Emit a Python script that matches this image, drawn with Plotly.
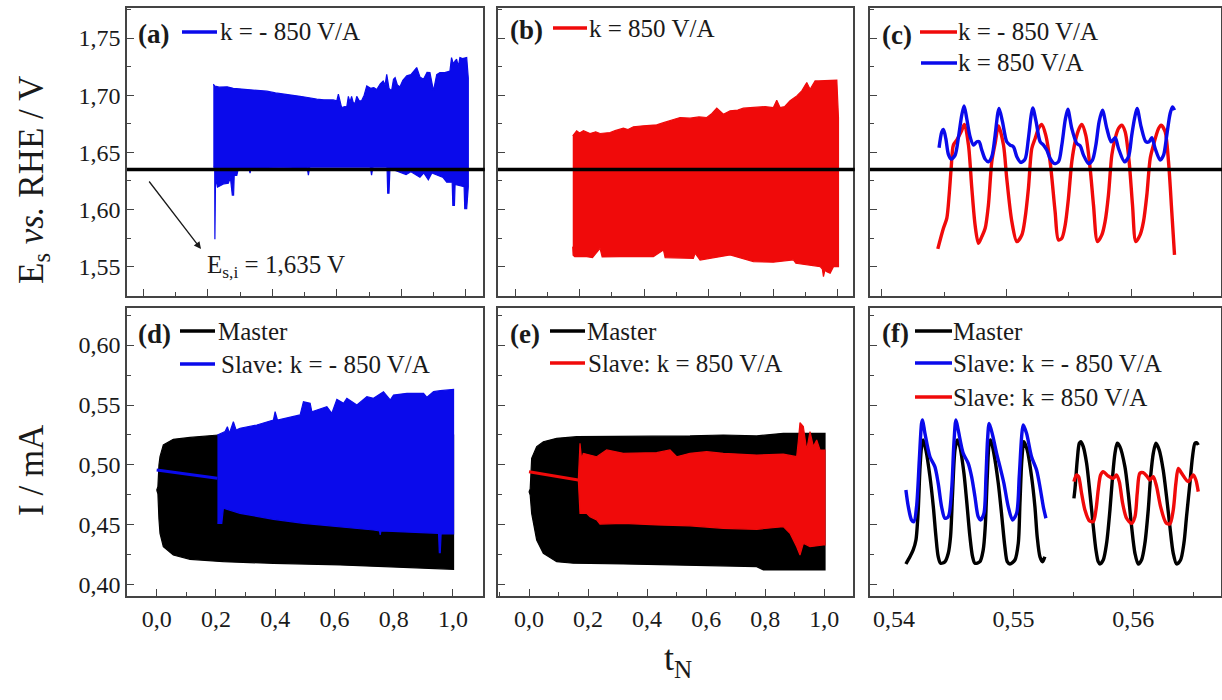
import plotly.graph_objects as go

W, H = 1222, 700
FONT = "Liberation Serif"
BLUE = "#0a0aeb"
RED = "#f00a0a"
BLACK = "#000000"
AXC = "#444444"

# ---------------- data ----------------
E_SI = 1.635  # initial slave potential, V

# (a) slave potential, k = -850 V/A : envelope of the dense oscillation
A_T_UP = [0.217, 0.222, 0.235, 0.260, 0.279, 0.300, 0.330, 0.360, 0.383, 0.410,
          0.440, 0.470, 0.486, 0.510, 0.538, 0.560, 0.589, 0.600, 0.605, 0.610,
          0.615, 0.625, 0.631, 0.636, 0.641, 0.646, 0.651, 0.657, 0.662, 0.670,
          0.677, 0.685, 0.693, 0.705, 0.715, 0.724, 0.735, 0.744, 0.750, 0.755,
          0.762, 0.770, 0.776, 0.781, 0.788, 0.796, 0.805, 0.817, 0.830, 0.848,
          0.858, 0.869, 0.880, 0.889, 0.895, 0.900, 0.910, 0.920, 0.935, 0.951,
          0.956, 0.962, 0.967, 0.972, 0.977, 0.982, 0.990, 1.003, 1.008]
A_V_UP = [1.7096, 1.7080, 1.7070, 1.7073, 1.7060, 1.7055, 1.7052, 1.7040, 1.7035, 1.7020,
          1.7010, 1.7000, 1.6990, 1.6980, 1.6965, 1.6960, 1.6959, 1.6950, 1.7009, 1.6950,
          1.6892, 1.6900, 1.6898, 1.6990, 1.6940, 1.6990, 1.6936, 1.6930, 1.6990, 1.6950,
          1.6951, 1.7000, 1.7081, 1.7060, 1.7067, 1.7050, 1.7100, 1.7125, 1.7090, 1.7183,
          1.7060, 1.7038, 1.7140, 1.7154, 1.7090, 1.7073, 1.7130, 1.7169, 1.7180, 1.7242,
          1.7160, 1.7140, 1.7200, 1.7198, 1.7120, 1.7038, 1.7180, 1.7198, 1.7198, 1.7210,
          1.7329, 1.7271, 1.7300, 1.7314, 1.7250, 1.7329, 1.7320, 1.7329, 1.7150]
A_T_LO = [0.217, 0.2215, 0.2220, 0.2235, 0.2240, 0.2300, 0.2400, 0.2500, 0.2637, 0.2700,
          0.2760, 0.2800, 0.2820, 0.2900, 0.2950, 0.3280, 0.3310, 0.3340, 0.5080, 0.5120,
          0.5160, 0.7040, 0.7080, 0.7120, 0.7560, 0.7580, 0.7620, 0.7650, 0.8150, 0.8300,
          0.8580, 0.8700, 0.8840, 0.8950, 0.9300, 0.9410, 0.9580, 0.9600, 0.9650, 0.9670,
          0.9800, 0.9950, 0.9970, 1.0030, 1.0080]
A_V_LO = [1.6370, 1.6370, 1.5740, 1.5740, 1.6280, 1.6196, 1.6210, 1.6225, 1.6230, 1.6280,
          1.6127, 1.6127, 1.6300, 1.6298, 1.6360, 1.6360, 1.6318, 1.6360, 1.6370, 1.6300,
          1.6370, 1.6370, 1.6300, 1.6370, 1.6370, 1.6143, 1.6143, 1.6360, 1.6306, 1.6330,
          1.6283, 1.6320, 1.6260, 1.6320, 1.6280, 1.6239, 1.6239, 1.6036, 1.6036, 1.6220,
          1.6210, 1.6200, 1.6007, 1.6007, 1.6200]

# (b) slave potential, k = 850 V/A
B_T_UP = [0.1788, 0.1910, 0.2000, 0.2120, 0.2324, 0.2500, 0.2634, 0.2944, 0.3100, 0.3357,
          0.3500, 0.3667, 0.3977, 0.4200, 0.4390, 0.4600, 0.4803, 0.5113, 0.5423, 0.5700,
          0.5940, 0.6100, 0.6250, 0.6455, 0.6663, 0.6900, 0.7075, 0.7300, 0.7490, 0.7750,
          0.8004, 0.8108, 0.8210, 0.8350, 0.8520, 0.8728, 0.8883, 0.9038, 0.9140, 0.9296,
          0.9400, 0.9553, 0.9760, 0.9969, 1.0020]
B_V_UP = [1.6645, 1.6689, 1.6670, 1.6689, 1.6665, 1.6680, 1.6665, 1.6674, 1.6690, 1.6712,
          1.6700, 1.6724, 1.6732, 1.6740, 1.6741, 1.6760, 1.6776, 1.6805, 1.6799, 1.6810,
          1.6805, 1.6840, 1.6887, 1.6834, 1.6863, 1.6870, 1.6887, 1.6890, 1.6898, 1.6900,
          1.6892, 1.6956, 1.6892, 1.6900, 1.6951, 1.6994, 1.7038, 1.7111, 1.7052, 1.7125,
          1.7125, 1.7125, 1.7125, 1.7131, 1.6805]
B_T_LO = [0.1788, 0.1800, 0.1850, 0.2220, 0.2400, 0.2634, 0.2700, 0.3254, 0.4287, 0.4597,
          0.4650, 0.4803, 0.5525, 0.5580, 0.5733, 0.6663, 0.7385, 0.8000, 0.8625, 0.8700,
          0.9040, 0.9452, 0.9520, 0.9555, 0.9600, 0.9659, 0.9762, 0.9865, 1.0020]
B_V_LO = [1.5676, 1.5600, 1.5588, 1.5588, 1.5580, 1.5661, 1.5585, 1.5588, 1.5588, 1.5647,
          1.5580, 1.5574, 1.5574, 1.5618, 1.5559, 1.5603, 1.5545, 1.5540, 1.5560, 1.5530,
          1.5516, 1.5501, 1.5480, 1.5414, 1.5470, 1.5457, 1.5443, 1.5501, 1.5501]

# (c) zoomed potentials
C_RED_T = [0.54450, 0.54495, 0.54522, 0.54541, 0.54557, 0.54575, 0.54602, 0.54637, 0.54664, 0.54696,
           0.54723, 0.54749, 0.54776, 0.54803, 0.54830, 0.54856, 0.54883, 0.54910, 0.54937, 0.54977,
           0.55003, 0.55044, 0.55084, 0.55124, 0.55150, 0.55177, 0.55204, 0.55231, 0.55258, 0.55284,
           0.55316, 0.55351, 0.55391, 0.55418, 0.55445, 0.55472, 0.55498, 0.55525, 0.55552, 0.55584,
           0.55605, 0.55637, 0.55672, 0.55699, 0.55731, 0.55766, 0.55792, 0.55819, 0.55846, 0.55873,
           0.55900, 0.55926, 0.55953, 0.55985, 0.56012, 0.56039, 0.56073, 0.56100, 0.56127, 0.56154,
           0.56180, 0.56221, 0.56242, 0.56274, 0.56301, 0.56327, 0.56349]
C_RED_V = [1.5656, 1.5836, 1.5923, 1.6127, 1.6360, 1.6564, 1.6607, 1.6680, 1.6744, 1.6564,
           1.6185, 1.5865, 1.5705, 1.5763, 1.5836, 1.6040, 1.6418, 1.6578, 1.6732, 1.6564,
           1.6273, 1.5894, 1.5720, 1.5778, 1.5923, 1.6185, 1.6534, 1.6622, 1.6709, 1.6744,
           1.6651, 1.6418, 1.5982, 1.5734, 1.5749, 1.5865, 1.6098, 1.6418, 1.6593, 1.6709,
           1.6744, 1.6651, 1.6360, 1.6040, 1.5720, 1.5778, 1.5894, 1.6127, 1.6476, 1.6622,
           1.6709, 1.6738, 1.6680, 1.6418, 1.6040, 1.5720, 1.5778, 1.5894, 1.6127, 1.6447,
           1.6564, 1.6709, 1.6738, 1.6680, 1.6418, 1.5982, 1.5603]
C_BLUE_T = [0.54460, 0.54482, 0.54495, 0.54514, 0.54535, 0.54557, 0.54589, 0.54616, 0.54642, 0.54661,
            0.54682, 0.54709, 0.54736, 0.54763, 0.54781, 0.54803, 0.54830, 0.54856, 0.54883, 0.54910,
            0.54931, 0.54942, 0.54969, 0.55003, 0.55030, 0.55057, 0.55084, 0.55116, 0.55150, 0.55177,
            0.55199, 0.55212, 0.55239, 0.55271, 0.55298, 0.55324, 0.55351, 0.55383, 0.55418, 0.55445,
            0.55472, 0.55493, 0.55525, 0.55565, 0.55592, 0.55619, 0.55659, 0.55691, 0.55718, 0.55744,
            0.55771, 0.55806, 0.55841, 0.55873, 0.55900, 0.55948, 0.55980, 0.56006, 0.56028, 0.56049,
            0.56081, 0.56119, 0.56145, 0.56167, 0.56194, 0.56234, 0.56261, 0.56287, 0.56314, 0.56333,
            0.56349]
C_BLUE_V = [1.6540, 1.6680, 1.6700, 1.6622, 1.6482, 1.6441, 1.6476, 1.6636, 1.6825, 1.6907,
            1.6796, 1.6636, 1.6564, 1.6593, 1.6593, 1.6520, 1.6441, 1.6418, 1.6462, 1.6651,
            1.6840, 1.6884, 1.6767, 1.6593, 1.6564, 1.6549, 1.6462, 1.6412, 1.6441, 1.6622,
            1.6825, 1.6889, 1.6767, 1.6593, 1.6564, 1.6520, 1.6447, 1.6403, 1.6418, 1.6564,
            1.6782, 1.6878, 1.6709, 1.6578, 1.6558, 1.6476, 1.6403, 1.6433, 1.6564, 1.6767,
            1.6869, 1.6709, 1.6593, 1.6628, 1.6534, 1.6418, 1.6462, 1.6651, 1.6796, 1.6884,
            1.6724, 1.6593, 1.6593, 1.6628, 1.6534, 1.6433, 1.6476, 1.6651, 1.6840, 1.6898,
            1.6869]

# (d) currents, master and slave k = -850 V/A
D_M_T_UP = [0.0, 0.004, 0.0075, 0.0111, 0.0223, 0.056, 0.1125, 0.169, 0.208, 0.40, 0.60, 0.80, 1.002]
D_M_V_UP = [0.479, 0.482, 0.500, 0.5069, 0.5167, 0.5214, 0.5230, 0.5242, 0.5250, 0.5250, 0.5250, 0.5250, 0.5250]
D_M_T_LO = [0.0, 0.004, 0.0075, 0.0111, 0.0223, 0.056, 0.1125, 0.225, 0.394, 0.619, 0.845, 1.002]
D_M_V_LO = [0.479, 0.476, 0.455, 0.443, 0.432, 0.425, 0.4214, 0.4194, 0.4180, 0.4167, 0.4147, 0.4130]
D_S_T_PRE = [0.0, 0.10, 0.2049]
D_S_V_PRE = [0.4958, 0.4925, 0.4889]
D_S_T_UP = [0.2049, 0.2139, 0.2307, 0.2386, 0.2454, 0.2588, 0.2679, 0.2814, 0.3378, 0.3939,
            0.3997, 0.4075, 0.4503, 0.4841, 0.4953, 0.5179, 0.5236, 0.5743, 0.5912, 0.6081,
            0.6306, 0.6419, 0.6757, 0.7095, 0.7318, 0.7655, 0.7882, 0.7993, 0.8446, 0.9007,
            0.9122, 0.9345, 0.9571, 1.0020]
D_S_V_UP = [0.5250, 0.5258, 0.5278, 0.5319, 0.5264, 0.5361, 0.5292, 0.5306, 0.5333, 0.5375,
            0.5444, 0.5375, 0.5397, 0.5417, 0.5528, 0.5514, 0.5444, 0.5486, 0.5431, 0.5547,
            0.5514, 0.5556, 0.5500, 0.5569, 0.5556, 0.5611, 0.5542, 0.5583, 0.5597, 0.5597,
            0.5564, 0.5611, 0.5619, 0.5630]
D_S_T_LO = [0.2049, 0.2196, 0.2230, 0.2250, 0.2814, 0.3939, 0.4953, 0.6081, 0.7318, 0.7520,
            0.7544, 0.7570, 0.8446, 0.9514, 0.9540, 0.9571, 0.9600, 0.9683, 1.0020]
D_S_V_LO = [0.4514, 0.4514, 0.4600, 0.4639, 0.4597, 0.4547, 0.4514, 0.4486, 0.4458, 0.4450,
            0.4417, 0.4450, 0.4444, 0.4430, 0.4269, 0.4269, 0.4425, 0.4425, 0.4425]

# (e) currents, master and slave k = 850 V/A
E_M_T_UP = [0.0, 0.004, 0.009, 0.026, 0.0485, 0.0937, 0.1614, 0.3194, 0.4324, 0.5452, 0.658, 0.771, 0.8612, 1.0024]
E_M_V_UP = [0.4778, 0.4800, 0.5056, 0.5153, 0.5194, 0.5222, 0.5236, 0.5236, 0.5242, 0.5242, 0.5250, 0.5242, 0.5264, 0.5264]
E_M_T_LO = [0.0, 0.004, 0.009, 0.026, 0.0485, 0.0937, 0.15, 0.3194, 0.5452, 0.771, 0.7935, 1.0024]
E_M_V_LO = [0.4778, 0.4750, 0.4597, 0.4375, 0.4264, 0.4194, 0.4181, 0.4175, 0.4167, 0.4153, 0.4125, 0.4125]
E_S_T_PRE = [0.0, 0.08, 0.167]
E_S_V_PRE = [0.4944, 0.4910, 0.4875]
E_S_T_UP = [0.167, 0.1727, 0.178, 0.184, 0.2292, 0.263, 0.3194, 0.4324, 0.4775, 0.5,
            0.5452, 0.6017, 0.658, 0.771, 0.8612, 0.9064, 0.9120, 0.9177, 0.929, 0.9403,
            0.9516, 0.963, 0.9742, 0.9854, 1.0024]
E_S_V_UP = [0.4875, 0.5180, 0.5050, 0.5097, 0.5069, 0.5125, 0.5097, 0.5103, 0.5125, 0.5069,
            0.5097, 0.5111, 0.5097, 0.5083, 0.5090, 0.5069, 0.5200, 0.5353, 0.5320, 0.5125,
            0.5278, 0.5153, 0.5208, 0.5125, 0.5125]
E_S_T_LO = [0.167, 0.1727, 0.195, 0.2066, 0.2292, 0.2404, 0.3194, 0.4324, 0.5452, 0.658,
            0.771, 0.8612, 0.8838, 0.9064, 0.9177, 0.929, 0.9516, 0.9966, 1.0024]
E_S_V_LO = [0.4875, 0.4597, 0.4597, 0.4569, 0.4542, 0.4508, 0.4514, 0.4500, 0.4493, 0.4472,
            0.4464, 0.4486, 0.4431, 0.4319, 0.4250, 0.4347, 0.4319, 0.4333, 0.4333]

# (f) zoomed currents
F_M1_T = [0.54100, 0.54134, 0.54161, 0.54184, 0.54203, 0.54217, 0.54231, 0.54245, 0.54267, 0.54301,
          0.54329, 0.54351, 0.54370, 0.54390, 0.54426, 0.54454, 0.54473, 0.54490, 0.54510, 0.54529,
          0.54551, 0.54585, 0.54607, 0.54635, 0.54657, 0.54677, 0.54718, 0.54746, 0.54763, 0.54780,
          0.54796, 0.54808, 0.54835, 0.54872, 0.54899, 0.54927, 0.54947, 0.54969, 0.55011, 0.55039,
          0.55053, 0.55069, 0.55086, 0.55114, 0.55150, 0.55178, 0.55197, 0.55220, 0.55242, 0.55261]
F_M1_V = [0.4175, 0.4236, 0.4292, 0.4375, 0.4625, 0.4958, 0.5153, 0.5208, 0.5125, 0.4903,
          0.4653, 0.4403, 0.4236, 0.4181, 0.4194, 0.4264, 0.4403, 0.4764, 0.5125, 0.5208,
          0.5153, 0.4931, 0.4708, 0.4403, 0.4236, 0.4181, 0.4194, 0.4292, 0.4486, 0.4903,
          0.5181, 0.5208, 0.5097, 0.4847, 0.4597, 0.4319, 0.4194, 0.4175, 0.4208, 0.4347,
          0.4681, 0.5042, 0.5195, 0.5125, 0.4903, 0.4653, 0.4403, 0.4236, 0.4194, 0.4236]
F_S1_T = [0.54100, 0.54120, 0.54147, 0.54167, 0.54189, 0.54212, 0.54231, 0.54239, 0.54259, 0.54301,
          0.54342, 0.54370, 0.54398, 0.54426, 0.54454, 0.54482, 0.54501, 0.54518, 0.54537, 0.54579,
          0.54621, 0.54649, 0.54677, 0.54704, 0.54724, 0.54752, 0.54769, 0.54782, 0.54796, 0.54824,
          0.54858, 0.54886, 0.54919, 0.54955, 0.54991, 0.55025, 0.55047, 0.55067, 0.55080, 0.55108,
          0.55150, 0.55192, 0.55220, 0.55248, 0.55270]
F_S1_V = [0.4792, 0.4653, 0.4542, 0.4528, 0.4653, 0.5042, 0.5347, 0.5375, 0.5264, 0.5069,
          0.4986, 0.4847, 0.4653, 0.4556, 0.4569, 0.4792, 0.5181, 0.5375, 0.5292, 0.5097,
          0.5014, 0.4903, 0.4736, 0.4569, 0.4542, 0.4597, 0.4903, 0.5208, 0.5347, 0.5250,
          0.5097, 0.4986, 0.4847, 0.4653, 0.4542, 0.4597, 0.4903, 0.5236, 0.5333, 0.5264,
          0.5069, 0.4958, 0.4819, 0.4653, 0.4556]
F_M2_T = [0.55504, 0.55512, 0.55521, 0.55532, 0.55549, 0.55562, 0.55582, 0.55610, 0.55638, 0.55666,
          0.55688, 0.55707, 0.55721, 0.55749, 0.55777, 0.55805, 0.55827, 0.55847, 0.55866, 0.55888,
          0.55930, 0.55958, 0.55986, 0.56014, 0.56041, 0.56069, 0.56097, 0.56125, 0.56145, 0.56167,
          0.56189, 0.56217, 0.56250, 0.56278, 0.56306, 0.56334, 0.56362, 0.56395, 0.56423, 0.56445,
          0.56473, 0.56495, 0.56515, 0.56529, 0.56543]
F_M2_V = [0.4722, 0.4792, 0.4903, 0.5042, 0.5181, 0.5195, 0.5153, 0.5014, 0.4764, 0.4486,
          0.4292, 0.4194, 0.4175, 0.4208, 0.4347, 0.4625, 0.4903, 0.5097, 0.5181, 0.5153,
          0.4986, 0.4764, 0.4486, 0.4264, 0.4175, 0.4208, 0.4347, 0.4625, 0.4903, 0.5097,
          0.5181, 0.5125, 0.4958, 0.4736, 0.4486, 0.4264, 0.4175, 0.4208, 0.4347, 0.4569,
          0.4847, 0.5069, 0.5181, 0.5186, 0.5167]
F_S2_T = [0.55504, 0.55526, 0.55543, 0.55568, 0.55596, 0.55632, 0.55666, 0.55688, 0.55707, 0.55727,
          0.55749, 0.55791, 0.55833, 0.55860, 0.55883, 0.55911, 0.55944, 0.55986, 0.56014, 0.56033,
          0.56055, 0.56083, 0.56117, 0.56139, 0.56167, 0.56195, 0.56228, 0.56273, 0.56306, 0.56334,
          0.56356, 0.56376, 0.56404, 0.56459, 0.56501, 0.56523, 0.56543]
F_S2_V = [0.4861, 0.4917, 0.4903, 0.4764, 0.4625, 0.4536, 0.4528, 0.4625, 0.4792, 0.4917,
          0.4944, 0.4908, 0.4889, 0.4917, 0.4861, 0.4681, 0.4556, 0.4514, 0.4569, 0.4764,
          0.4931, 0.4936, 0.4903, 0.4875, 0.4903, 0.4819, 0.4653, 0.4519, 0.4508, 0.4625,
          0.4847, 0.4972, 0.4931, 0.4861, 0.4917, 0.4875, 0.4778]

# axis ranges
TOP_Y_RANGE = [1.5244, 1.776]
BOT_Y_RANGE = [0.3908, 0.6306]
X_RANGE_A = [-0.0506, 1.0536]
X_RANGE_B = [-0.0527, 1.047]
X_RANGE_C = [0.53906, 0.56722]
X_RANGE_D = [-0.1003, 1.1014]
X_RANGE_E = [-0.105, 1.0972]
X_RANGE_F = [0.53800, 0.56733]

# ---------------- figure ----------------
fig = go.Figure()


def band(xa, ya, tu, vu, tl, vl, color):
    xs = list(tu) + list(reversed(tl))
    ys = list(vu) + list(reversed(vl))
    fig.add_trace(go.Scatter(x=xs, y=ys, xaxis=xa, yaxis=ya, mode="lines", fill="toself",
                             fillcolor=color, line=dict(color=color, width=1.2),
                             hoverinfo="skip", showlegend=False))


def curve(xa, ya, t, v, color, width=3.4, shape="spline"):
    fig.add_trace(go.Scatter(x=t, y=v, xaxis=xa, yaxis=ya, mode="lines",
                             line=dict(color=color, width=width, shape=shape, smoothing=0.8),
                             hoverinfo="skip", showlegend=False))


band("x", "y", A_T_UP, A_V_UP, A_T_LO, A_V_LO, BLUE)
band("x2", "y2", B_T_UP, B_V_UP, B_T_LO, B_V_LO, RED)
curve("x3", "y3", C_RED_T, C_RED_V, RED)
curve("x3", "y3", C_BLUE_T, C_BLUE_V, BLUE)

band("x4", "y4", D_M_T_UP, D_M_V_UP, D_M_T_LO, D_M_V_LO, BLACK)
curve("x4", "y4", D_S_T_PRE, D_S_V_PRE, BLUE, width=3, shape="linear")
band("x4", "y4", D_S_T_UP, D_S_V_UP, D_S_T_LO, D_S_V_LO, BLUE)

band("x5", "y5", E_M_T_UP, E_M_V_UP, E_M_T_LO, E_M_V_LO, BLACK)
curve("x5", "y5", E_S_T_PRE, E_S_V_PRE, RED, width=3, shape="linear")
band("x5", "y5", E_S_T_UP, E_S_V_UP, E_S_T_LO, E_S_V_LO, RED)

curve("x6", "y6", F_M1_T, F_M1_V, BLACK)
curve("x6", "y6", F_S1_T, F_S1_V, BLUE)
curve("x6", "y6", F_M2_T, F_M2_V, BLACK)
curve("x6", "y6", F_S2_T, F_S2_V, RED)

# ---------------- axes ----------------
COLS = [(127, 483), (498, 853), (870, 1221)]
ROWS = [(8.3, 296), (308.3, 596)]


def xdom(c):
    return [COLS[c][0] / W, COLS[c][1] / W]


def ydom(r):
    return [1 - ROWS[r][1] / H, 1 - ROWS[r][0] / H]


def minor_style(dtick, tick0):
    return dict(ticks="inside", ticklen=4, tickwidth=1.2, tickcolor=AXC,
                dtick=dtick, tick0=tick0, showgrid=False)


def axis_style(**kw):
    d = dict(showline=True, mirror=True, linecolor=AXC, linewidth=1.5,
             ticks="inside", ticklen=7, tickwidth=1.3, tickcolor=AXC,
             showgrid=False, zeroline=False, tickmode="linear", automargin=False,
             tickfont=dict(family=FONT, size=24, color="#1a1a1a"))
    d.update(kw)
    return d


xranges = [X_RANGE_A, X_RANGE_B, X_RANGE_C, X_RANGE_D, X_RANGE_E, X_RANGE_F]
layout_axes = {}
for i in range(6):
    r, c = divmod(i, 3)
    key = "" if i == 0 else str(i + 1)
    if c < 2:
        xs = dict(tick0=0, dtick=0.2, tickformat=".1f", minor=minor_style(0.1, 0))
    else:
        xs = dict(tick0=0.54, dtick=0.01, tickformat=".2f", minor=minor_style(0.005, 0.54))
    layout_axes["xaxis" + key] = axis_style(domain=xdom(c), range=xranges[i], anchor="y" + key,
                                            showticklabels=(r == 1), **xs)
    if r == 0:
        ys = dict(tick0=1.55, dtick=0.05, range=TOP_Y_RANGE, minor=minor_style(0.025, 1.55))
    else:
        ys = dict(tick0=0.40, dtick=0.05, range=BOT_Y_RANGE, minor=minor_style(0.025, 0.40))
    layout_axes["yaxis" + key] = axis_style(domain=ydom(r), anchor="x" + key, tickformat=".2f",
                                            showticklabels=(c == 0), **ys)

fig.update_layout(**layout_axes)

# ---------------- decorations ----------------
shapes = []
for xk, yk in [("x", "y"), ("x2", "y2"), ("x3", "y3")]:
    shapes.append(dict(type="line", xref=xk + " domain", yref=yk, x0=0, x1=1.005, y0=E_SI, y1=E_SI,
                       line=dict(color=BLACK, width=3.5), layer="above"))


def px(x):
    return x / W


def py(y):
    return 1 - y / H


def leg_line(x0, x1, y, color):
    shapes.append(dict(type="line", xref="paper", yref="paper", x0=px(x0), x1=px(x1),
                       y0=py(y), y1=py(y), line=dict(color=color, width=3.5)))


annotations = []


def text(x, y, s, size=25, bold=False, anchor="left", angle=0):
    if bold:
        s = "<b>" + s + "</b>"
    annotations.append(dict(x=px(x), y=py(y), xref="paper", yref="paper", text=s, showarrow=False,
                            xanchor=anchor, yanchor="middle", textangle=angle,
                            font=dict(family=FONT, size=size, color="#1a1a1a")))


# panel (a)
text(136, 34, "(a)", size=27, bold=True)
leg_line(182, 217, 32, BLUE)
text(218, 32, "k = - 850 V/A")
# panel (b)
text(508, 30, "(b)", size=27, bold=True)
leg_line(553, 587, 28, RED)
text(587, 28, "k = 850 V/A")
# panel (c)
text(880, 35, "(c)", size=27, bold=True)
leg_line(920, 957, 32, RED)
text(956, 32, "k = - 850 V/A")
leg_line(921, 957, 63, BLUE)
text(956, 63, "k = 850 V/A")
# panel (d)
text(136, 334, "(d)", size=27, bold=True)
leg_line(180, 215, 331, BLACK)
text(216, 331, "Master")
leg_line(180, 215, 364, BLUE)
text(219, 364, "Slave: k = - 850 V/A")
# panel (e)
text(508, 334, "(e)", size=27, bold=True)
leg_line(550, 585, 331, BLACK)
text(585, 331, "Master")
leg_line(550, 585, 363, RED)
text(586, 363, "Slave: k = 850 V/A")
# panel (f)
text(880, 333, "(f)", size=27, bold=True)
leg_line(915, 952, 331, BLACK)
text(951, 331, "Master")
leg_line(915, 952, 363, BLUE)
text(951, 363, "Slave: k = - 850 V/A")
leg_line(915, 952, 397, RED)
text(951, 397, "Slave: k = 850 V/A")

# E_s,i annotation with arrow
text(205, 266, "E<sub>s,i</sub> = 1,635 V", size=25)
annotations.append(dict(x=px(201), y=py(249), xref="paper", yref="paper", text="", showarrow=True,
                        ax=-53, ay=-69, arrowhead=2, arrowsize=1.1, arrowwidth=1.3,
                        arrowcolor="#1a1a1a", standoff=0, startstandoff=0))

# axis titles
text(34, 180, "E<sub>s</sub> <i>vs.</i> RHE / V", size=35, anchor="center", angle=-90)
text(32, 470, "I / mA", size=35, anchor="center", angle=-90)
text(678, 660, "t<sub>N</sub>", size=36, anchor="center")

fig.update_layout(width=W, height=H, margin=dict(l=0, r=0, t=0, b=0, autoexpand=False),
                  paper_bgcolor="white", plot_bgcolor="white",
                  separators=", ", showlegend=False,
                  shapes=shapes, annotations=annotations)

# remove the browser's default 8px body margin so the figure sits at the page origin
fig.write_html("out.html", config={"displayModeBar": False},
               post_script="document.body.style.margin='0';document.body.style.padding='0';")
